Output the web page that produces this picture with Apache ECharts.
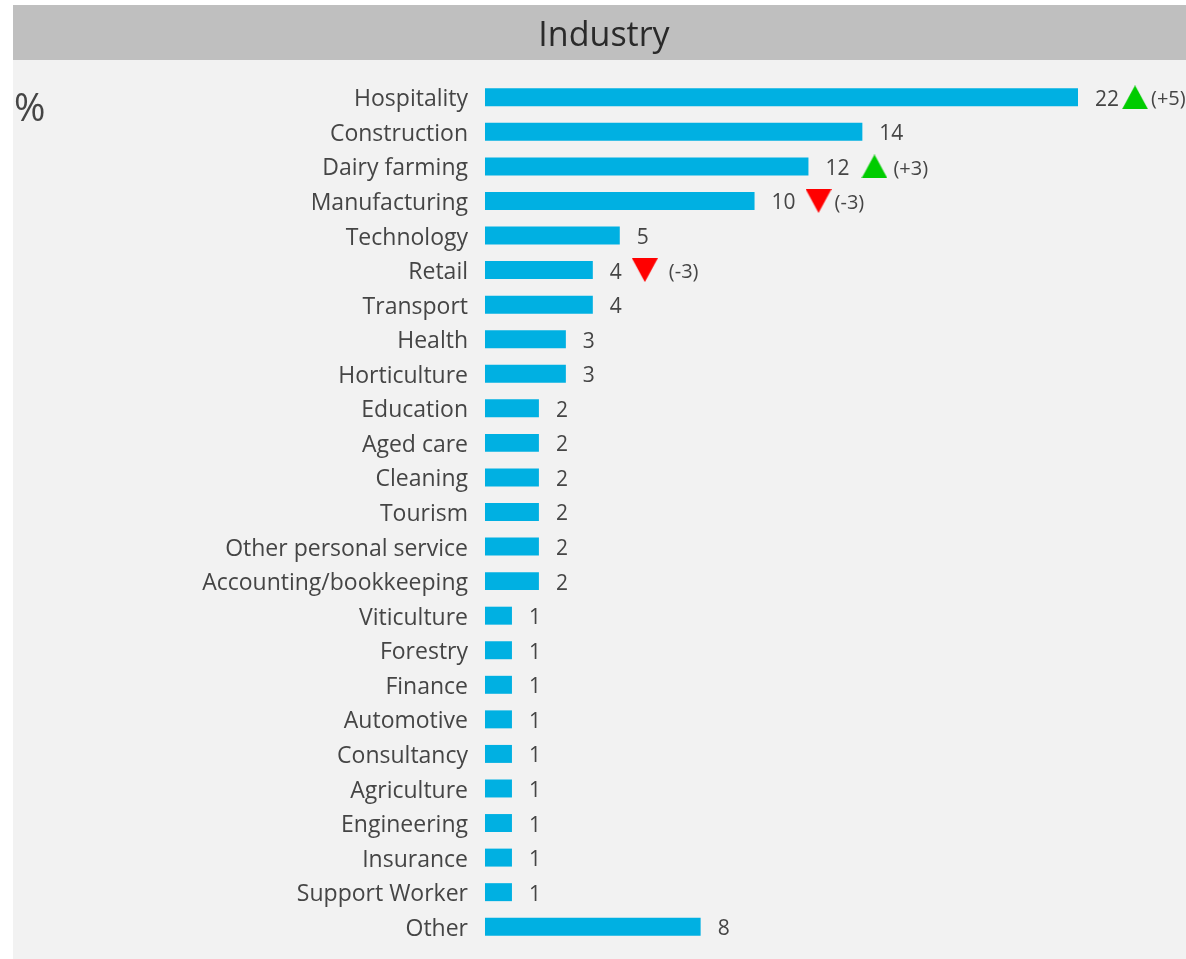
<!DOCTYPE html>
<html><head><meta charset="utf-8">
<script src="https://cdn.jsdelivr.net/npm/echarts@6/dist/echarts.min.js"></script>
<style>html,body{margin:0;padding:0;background:#fff}#c{width:1186px;height:959px}</style>
</head><body><div id="c"></div>
<script>
const categories = ['Hospitality','Construction','Dairy farming','Manufacturing','Technology','Retail','Transport','Health','Horticulture','Education','Aged care','Cleaning','Tourism','Other personal service','Accounting/bookkeeping','Viticulture','Forestry','Finance','Automotive','Consultancy','Agriculture','Engineering','Insurance','Support Worker','Other'];
const values = [22,14,12,10,5,4,4,3,3,2,2,2,2,2,2,1,1,1,1,1,1,1,1,1,8];
const changes = ['+5','','+3','-3','','-3','','','','','','','','','','','','','','','','','','',''];
const FONT = 'Open Sans';
const TXT = '#454545';

function tri(up, color){
  const c=document.createElement('canvas');c.width=26;c.height=22;
  const g=c.getContext('2d');g.fillStyle=color;g.beginPath();
  if(up){g.moveTo(13,0);g.lineTo(26,22);g.lineTo(0,22);}else{g.moveTo(0,0);g.lineTo(26,0);g.lineTo(13,22);}
  g.closePath();g.fill();return c;
}
const upImg=tri(true,'#00cc00'), downImg=tri(false,'#ff0000');
// spacing around the arrow per row (style only)
const gapStyle={0:[3,3],2:[12,6],3:[10,3],5:[10,11]};
const vStyle={fontSize:21,color:TXT,fontFamily:FONT,padding:[5,0,0,0]};

const chart = echarts.init(document.getElementById('c'));
chart.setOption({
  backgroundColor:'#ffffff',
  animation:false,
  graphic:[
    {type:'rect',z:-10,shape:{x:13,y:60,width:1173,height:899},style:{fill:'#f2f2f2'}},
    {type:'rect',z:-10,shape:{x:13,y:5,width:1173,height:55},style:{fill:'#bfbfbf'}},
    {type:'text',left:14,top:91,style:{text:'%',fontSize:38,fill:TXT,fontFamily:FONT}}
  ],
  title:{text:'Industry',left:599,top:14,textAlign:'center',textStyle:{fontSize:34,fontWeight:'normal',color:'#2a2a2a',fontFamily:FONT}},
  grid:{left:485,right:108,top:80,bottom:15,containLabel:false},
  xAxis:{type:'value',min:0,max:22,show:false},
  yAxis:{type:'category',data:categories,inverse:true,
    axisLine:{show:false},axisTick:{show:false},
    axisLabel:{margin:17,formatter:'{a|{value}}',
      rich:{a:{fontSize:23,color:TXT,fontFamily:FONT,padding:[5,0,0,0]}}}},
  series:[{type:'bar',barCategoryGap:'48%',
    data:values.map((v,i)=>{
      const c=changes[i];
      if(!c) return v;
      const up=c[0]==='+', g=gapStyle[i]||[8,6];
      return {value:v,label:{
        formatter:'{v|'+v+'}{'+(up?'u':'d')+'|}{c|('+c+')}',
        rich:{v:Object.assign({},vStyle,{padding:[5,g[0],0,0]}),
          u:{width:26,height:22,backgroundColor:{image:upImg},padding:[2,0,0,0]},
          d:{width:26,height:22,backgroundColor:{image:downImg},padding:[2,0,0,0]},
          c:{fontSize:20,color:TXT,fontFamily:FONT,padding:[5,0,0,g[1]]}}}};
    }),
    itemStyle:{color:'#00b0e2'},
    label:{show:true,position:'right',distance:17,formatter:'{v|{c}}',rich:{v:vStyle}}
  }]
});
</script></body></html>
